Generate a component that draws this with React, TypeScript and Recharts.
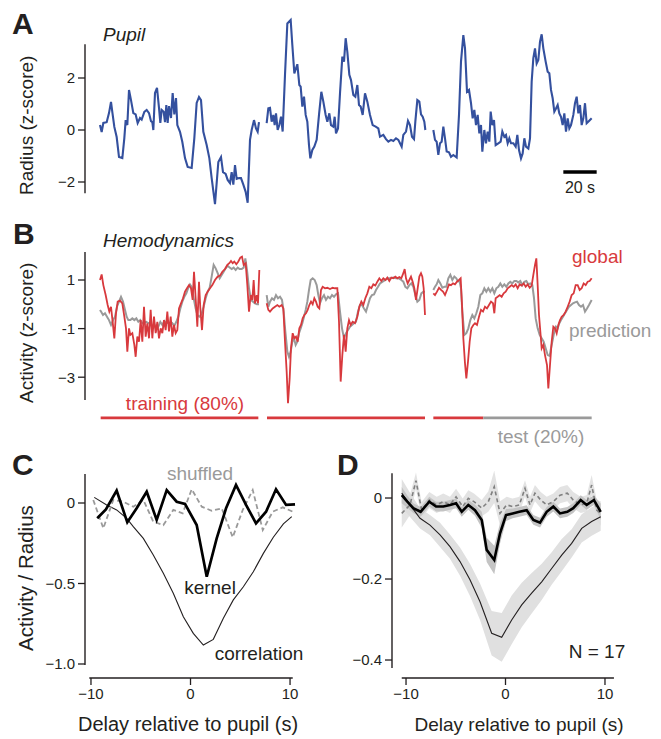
import { ComposedChart, Line, Area, XAxis, YAxis, ReferenceLine } from "recharts";

const FONT = "'Liberation Sans', Arial, sans-serif";
const INK = "#231f20";
const BLUE = "#34509e";
const RED = "#d8393d";
const GRAY = "#9a9a9a";

type Pt = [number, number];

// A: pupil radius (z-score), time in s, three recording segments
const pupilSeg1: Pt[] = [[0,0.19],[1,-0.08],[2,0.27],[4,0.3],[5.4,0.65],[6.6,1.08],[7.4,0.69],[8.6,0.12],[10,-0.27],[11.4,-1.04],[13.4,-1.08],[14.6,-0.31],[15.4,0.38],[16.4,0.19],[17.4,1.54],[18.6,1.15],[20,0.65],[21.4,0.6],[22.6,0.27],[24,0.46],[25,0.4],[26.6,0.7],[28,0.77],[29.4,0.65],[30.6,0.34],[31.4,0.3],[32,0],[33,1.42],[34.2,1.62],[35.4,0.85],[36.2,0.27],[37,0.77],[38.2,0.7],[39,0.3],[39.8,0.96],[40.6,0.27],[41.4,0.92],[42.6,0.46],[43.6,1.42],[44.6,0.6],[45.6,1.23],[46.4,0.19],[48,-0.07],[49.4,-0.46],[51,-1.08],[52.6,-1.42],[55,-1.46],[56.6,-0.31],[58,1.04],[59.4,1.27],[60.6,1.15],[62,-0.07],[64,-0.58],[65.6,-1.08],[67,-1.85],[69,-2.85],[71,-1.23],[72.6,-1.04],[73.8,-1.62],[75.4,-1.69],[76.6,-1.92],[78,-2.04],[79,-1.62],[80,-2.1],[81,-1.35],[82,-1.88],[83.4,-1.85],[84.6,-1.85],[86,-2.1],[87.4,-2.38],[88.6,-2.8],[90,-0.38],[91,0],[92.4,0.38],[93.6,0.06],[94.6,-0.07],[95.4,0.3]];
const pupilSeg2: Pt[] = [[100,0.26],[101,0.83],[102,0.85],[103,0.32],[104,0.58],[104.8,0.19],[105.6,0.64],[106.6,0],[107.6,0.19],[108.6,0.51],[109.6,-0.06],[111,2.12],[112.4,4.1],[114.4,4.23],[115.4,3.27],[116.6,2.18],[118.4,2.53],[119.6,1.73],[120.4,1.67],[121.4,0.9],[122.4,1.28],[123.4,0.58],[124.4,0.32],[125.4,-0.58],[126.2,-1.09],[127.4,-0.77],[128.6,-0.64],[130,-0.38],[131.4,0.58],[132.8,1.47],[134,1.09],[135.4,0.58],[136.4,0.32],[137.6,0.64],[138.6,0.19],[140,0.13],[140.8,0.51],[141.6,-0.13],[142.8,0.06],[144,1.41],[145.4,2.82],[146.4,2.63],[147.4,3.53],[148.4,3.01],[149.6,2.12],[150.6,1.92],[152,1.35],[153.2,1.28],[154.4,1.73],[155.4,0.96],[156.4,0.9],[157.6,0.58],[159,1.41],[160.4,1.09],[162,0.58],[163.6,0.19],[165.4,0.13],[167,0.06],[168,-0.26],[170,-0.19],[171.6,-0.35],[173,-0.45],[174.6,-0.38],[176,-0.42],[177.6,-0.32],[179,-0.38],[180,-0.51],[181,-0.64],[182,-0.19],[183.6,-0.06],[184.8,0.35],[186,0.19],[187.2,-0.26],[188.4,-0.35],[189.2,0.32],[190.4,1.15],[191.6,1.09],[192.6,0.6],[193.6,0.51],[194.6,0.32],[195.2,0]];
const pupilSeg3: Pt[] = [[200,0],[201,-0.38],[202,-0.45],[203,-0.96],[204,-0.51],[205,-0.45],[206,0.13],[207,-0.32],[208,-0.83],[209.4,-0.86],[210.6,-1.03],[212,-0.96],[214,-1.06],[215.4,0.58],[216.6,2.63],[218,3.65],[219,3.14],[220.2,1.47],[221.4,1.54],[222.6,1.03],[223.6,0.45],[224.6,0.77],[225.6,0.19],[226.6,0.58],[227.6,-0.13],[228.6,0.19],[229.4,-0.83],[230.6,0],[231.6,-0.51],[232.6,-0.06],[233.6,-0.45],[234.4,0.71],[235.4,0.19],[236.4,0.38],[237.4,-0.58],[239,-0.51],[240.4,-0.45],[241.4,-0.06],[242.6,-0.26],[243.6,-0.19],[244.6,-0.51],[245.6,-0.32],[246.6,-0.51],[248,-0.51],[249.4,-0.64],[250.4,-0.19],[251.4,-0.77],[252.6,-1.09],[253.6,-0.9],[254.6,-0.32],[255.6,-0.64],[257,-0.71],[258,-0.32],[259,1.86],[260,2.76],[261,3.14],[262,2.56],[263,2.69],[264,3.4],[265,3.68],[266,3.14],[267.4,2.63],[268.6,2.24],[269.6,2.18],[270.6,1.54],[271.6,1.22],[272.6,0.71],[273.6,0.83],[274.6,0.96],[275.6,0.64],[276.6,0.51],[277.6,0.19],[278.6,0.64],[279.6,-0.06],[280.6,0.45],[281.6,0.06],[282.6,0.19],[284,0.58],[285,1.03],[286,1.28],[287,0.64],[288,0.96],[289,0.19],[290,0.45],[291,1.03],[292,0.26],[293.4,0.35],[295,0.45]];

// B: global hemodynamic activity and model prediction
const globalSeg1: Pt[] = [[0,1.0],[1,1.23],[2,0.79],[3.4,0.38],[4.6,-0.03],[5.6,-0.3],[6.6,-0.1],[7.6,-0.72],[8.6,-1.4],[9.6,-0.37],[10.6,0.11],[12,0.15],[13.4,0.04],[14.6,-0.51],[15.6,-0.99],[16.4,-1.95],[17.4,-0.99],[18.2,-1.26],[19.4,-1.19],[20.6,-1.67],[21.4,-2.16],[22.4,-1.33],[23.4,-1.54],[24.4,-0.65],[25.4,-1.54],[26.4,-0.1],[27.4,-1.33],[28.4,-0.78],[29.4,-1.4],[30.4,-0.23],[31.4,-1.4],[32.4,-0.51],[33.4,-1.19],[34.4,-0.72],[35.4,-1.4],[36.4,-0.99],[37.4,-1.19],[38.4,-0.65],[39.4,-1.06],[40.4,-0.3],[41.4,-1.12],[42.4,-0.51],[43.4,-1.33],[44.4,-0.85],[45.4,-1.19],[46.4,-1.06],[47.4,-0.17],[48.6,0.04],[49.8,0.25],[51,0.52],[52.2,0.66],[53.4,0.79],[54.6,0.66],[55.6,0.18],[56.4,1.34],[57.4,0.25],[58.4,-0.92],[59.4,0.93],[60.2,-0.17],[61.2,-1.06],[62.2,-0.03],[63.4,0.38],[64.6,0.52],[66,0.66],[67.4,0.79],[69,1.0],[70.6,1.14],[72,1.18],[73.4,1.34],[75,1.45],[76.4,1.62],[77.6,1.69],[78.6,1.78],[79.6,1.69],[80.6,1.76],[81.8,1.65],[83,1.76],[84.2,1.92],[85.2,1.96],[86.2,1.62],[87.4,1.69],[88.4,0.79],[89.4,-0.3],[90.4,0.38],[91.4,0.18],[92.2,1.0],[93,0.04],[94,0.38],[94.8,0.04],[95.6,1.41]];
const globalSeg2: Pt[] = [[100,0.04],[101,-0.23],[102,-0.3],[103.6,-0.17],[105,-0.1],[106.4,-0.03],[107.6,-0.1],[109,-0.03],[110,-0.17],[111,-1.54],[112,-2.77],[112.8,-4.07],[113.8,-3.05],[114.6,-1.81],[115.6,-1.19],[116.6,-1.4],[117.6,-1.33],[118.6,-1.54],[119.6,-0.99],[120.6,-0.85],[121.6,-0.58],[122.6,-0.44],[123.6,-0.37],[124.6,-0.23],[125.6,-0.03],[126.6,0.11],[127.6,0],[128.6,0.25],[129.6,0.11],[130.6,-0.1],[131.6,-0.17],[132.6,0.59],[133.6,0.72],[135,0.66],[136.4,0.68],[138,0.63],[139.6,0.68],[141,0.66],[142.4,0.66],[143.4,-0.72],[144.4,-3.18],[145.4,-2.09],[146.4,-1.26],[147.4,-1.95],[148.4,-0.99],[149.4,-0.65],[150.4,-0.85],[151.6,-0.72],[153,-0.78],[154.4,-0.51],[155.6,-0.1],[156.8,0.11],[158,-0.03],[159.2,0.25],[160.4,0.45],[161.6,0.72],[162.8,0.66],[164,0.82],[165.2,0.77],[166.4,0.93],[167.6,1.07],[168.8,0.96],[170,1.07],[171.2,1.0],[172.4,1.1],[173.6,0.96],[174.8,1.1],[176,1.07],[177.2,1.14],[178.4,1.07],[179.6,1.12],[180.8,1.07],[182,1.28],[182.8,1.45],[183.6,1.07],[184.6,0.86],[185.6,1.0],[186.6,1.14],[187.6,0.93],[188.6,0.66],[189.6,0.18],[190.6,0.66],[191.6,1.14],[192.6,1.28],[193.4,1.14],[194.2,0.66],[195,-0.44]];
const globalSeg3: Pt[] = [[200,0.45],[201,0.38],[202.2,0.52],[203.4,0.68],[204.6,0.59],[205.8,0.52],[207,0.38],[208.2,0.59],[209.4,0.82],[210.6,0.79],[211.8,0.86],[213,0.82],[214.2,0.93],[215.4,1.0],[216.4,1.07],[217.2,-0.03],[218,-1.4],[219,-2.43],[219.8,-3.05],[220.8,-2.36],[221.8,-1.54],[222.8,-0.99],[224,-0.85],[225,-0.78],[226.2,-0.85],[227.4,-0.51],[228.6,-0.23],[229.8,-0.3],[231,-0.1],[232.2,-0.17],[233.4,-0.03],[234.6,0.11],[235.8,0.04],[236.6,-0.37],[237.4,0.25],[238.6,0.31],[239.8,0.38],[241,0.31],[242.2,0.45],[243.4,0.52],[244.6,0.66],[245.8,0.72],[247,0.79],[248.2,0.72],[249.4,0.82],[250.6,0.66],[251.8,0.82],[253,0.77],[254.2,0.86],[255.4,0.72],[256.6,0.82],[257.8,0.68],[259,0.77],[260,1.21],[261,1.62],[261.8,1.89],[262.6,0.79],[263.4,-0.44],[264.2,-1.12],[265,-1.81],[266,-1.67],[267,-2.09],[268.2,-2.5],[269,-3.46],[270,-2.5],[271,-1.54],[272,-0.92],[273,-0.99],[274,-1.19],[275,-0.85],[276,-0.65],[277,-0.51],[278.2,-0.44],[279.4,-0.3],[280.6,-0.1],[281.8,0.11],[283,0.38],[284.2,0.45],[285.4,0.79],[286.6,0.79],[287.8,0.59],[289,0.66],[290.2,0.86],[291.4,0.79],[292.6,0.93],[293.8,0.96],[295,1.07]];
const predSeg1: Pt[] = [[0,-0.23],[0.6,-0.3],[1.8,-0.44],[3,-0.37],[4.2,-0.51],[5.4,-0.65],[6.6,-0.85],[7.8,-0.65],[9,-0.51],[10.2,-0.1],[11.4,0.11],[12.6,0.31],[13.8,0.11],[15,-0.23],[16,-0.51],[17,-0.65],[18.2,-0.65],[19.4,-0.58],[20.6,-0.65],[21.8,-0.58],[23,-0.72],[24.2,-0.65],[25.4,-0.78],[26.6,-0.75],[27.8,-0.72],[29,-0.78],[30.2,-0.75],[31.4,-0.96],[32.6,-0.82],[33.8,-1.06],[35,-0.92],[36.2,-0.72],[37.4,-0.85],[38.6,-0.69],[39.8,-0.78],[41,-0.75],[42.2,-0.85],[43.4,-0.78],[44.6,-0.88],[45.8,-0.72],[47,-0.51],[48.2,-0.17],[49.4,0.11],[50.6,0.31],[51.8,0.45],[53,0.68],[54,0.82],[55,0.72],[56.2,0.25],[57.4,-0.17],[58.6,-0.47],[59.8,-0.51],[61,-0.37],[62.2,-0.1],[63.4,0.25],[64.6,0.52],[65.8,0.68],[67,1.14],[68.2,1.62],[69.4,1.48],[70.6,1.28],[71.8,1.07],[73,1.21],[74.2,1.34],[75.4,1.48],[76.6,1.59],[77.8,1.51],[79,1.45],[80.2,1.51],[81.4,1.41],[82.6,1.51],[83.8,1.45],[85,1.45],[86.2,1.51],[87.2,1.89],[88.2,1.41],[89.4,0.66],[90.6,0.18],[91.8,0.11],[93,0.04],[94.2,0],[95.4,0]];
const predSeg2: Pt[] = [[100,0.38],[101,-0.1],[102,0.11],[103.2,0.25],[104.4,0.18],[105.6,0.38],[106.8,0.25],[108,0.31],[109.2,0.18],[110.2,-0.3],[111.2,-1.12],[112.4,-1.95],[113.4,-2.16],[114.4,-1.95],[115.4,-1.54],[116.4,-1.4],[117.4,-1.67],[118.4,-1.54],[119.4,-1.19],[120.4,-0.99],[121.4,-0.78],[122.4,-0.51],[123.4,-0.23],[124.4,0.11],[125.4,0.59],[126.4,1.0],[127.6,1.07],[128.8,1.0],[130,0.79],[131,0.38],[132,0.04],[133.2,0.25],[134.4,0.38],[135.6,0.18],[136.8,0.31],[138,0.25],[139.2,0.38],[140.4,0.31],[141.6,0.41],[142.8,0.45],[144,-0.3],[145.2,-0.99],[146.4,-1.4],[147.6,-1.19],[148.8,-1.06],[150,-0.92],[151.2,-0.85],[152.4,-0.78],[153.6,-0.72],[154.8,-0.3],[156,-0.03],[157.2,-0.03],[158.4,-0.17],[159.6,-0.3],[160.8,-0.03],[162,0.25],[163.2,0.38],[164.4,0.41],[165.6,0.59],[166.8,0.72],[168,0.86],[169.6,0.93],[171.2,1.0],[172.8,1.07],[174.4,1.07],[176,1.1],[177.6,1.07],[179.2,1.07],[180.8,1.0],[182,0.93],[183.2,0.72],[184.4,0.66],[185.6,0.79],[186.8,0.86],[188,0.72],[189.2,0.38],[190.4,0.11],[191.6,0.18],[192.8,0.45],[194,0.52],[195,0.52]];
const predSeg3: Pt[] = [[200,0.59],[201,0.72],[202,0.82],[203,1.0],[204.2,0.86],[205.4,0.68],[206.6,0.72],[207.8,0.72],[209,1.07],[210.2,1.21],[211.4,1.0],[212.6,1.14],[213.8,1.07],[214.6,0.96],[215.8,0.93],[216.6,0.66],[217.4,-0.3],[218.6,-1.26],[219.8,-1.19],[221,-0.99],[222.2,-0.65],[223.4,-0.44],[224.6,-0.58],[225.8,-0.37],[227,-0.1],[228.2,0.38],[229.4,0.45],[230.6,0.66],[231.8,0.52],[233,0.66],[234.2,0.52],[235.4,0.66],[236.6,0.45],[237.8,0.66],[239,0.72],[240.2,0.86],[241.4,0.72],[242.6,0.82],[243.8,0.72],[245,0.86],[246.2,0.93],[247.4,0.86],[248.6,0.96],[249.8,0.96],[251,0.9],[252.2,0.96],[253.4,0.79],[254.6,0.93],[255.8,0.96],[257,0.82],[258.2,0.86],[259.4,0.79],[260.4,0.25],[261.4,-0.58],[262.6,-0.99],[263.8,-1.26],[265,-1.4],[266.2,-1.54],[267.4,-1.81],[268.6,-2.09],[269.8,-2.12],[270.6,-1.81],[271.6,-1.47],[272.6,-1.12],[273.6,-0.92],[274.6,-0.99],[275.6,-0.78],[276.6,-0.65],[277.8,-0.51],[279,-0.37],[280.2,-0.23],[281.4,-0.1],[282.6,-0.03],[283.8,0.04],[285,0.08],[286.2,0.11],[287.4,-0.03],[288.6,-0.1],[289.8,-0.03],[291,-0.3],[292.2,-0.17],[293.4,-0.03],[295,0.18]];

// train / test split (s)
const trainSpans: Pt[] = [[0.4, 95], [100.2, 195], [200, 230]];
const testSpan: Pt = [230, 295];

// C: single example, delay (s) vs activity / radius
const kernelC: Pt[] = [[-9.37,-0.095],[-8.5,-0.04],[-7.42,0.077],[-6.35,-0.12],[-5.41,-0.033],[-4.4,0.07],[-3.4,-0.105],[-2.39,0.08],[-1.39,0.008],[-0.55,-0.006],[0.62,-0.137],[1.63,-0.458],[2.63,-0.22],[3.57,-0.033],[4.57,0.112],[5.58,-0.012],[6.58,-0.126],[7.59,-0.054],[8.59,0.085],[9.6,-0.012],[10.5,-0.008]];
const shuffledC: Pt[] = [[-9.77,0.019],[-8.76,-0.157],[-7.76,0.019],[-6.75,0.008],[-5.75,-0.023],[-4.74,0.019],[-3.74,-0.116],[-2.73,-0.137],[-1.73,-0.043],[-0.79,-0.064],[0.12,0.085],[1.13,-0.023],[2.13,-0.048],[3.14,-0.033],[4.24,-0.213],[5.25,-0.043],[6.25,0.081],[7.26,-0.168],[8.26,-0.054],[9.27,-0.027],[10.27,-0.054]];
const correlationC: Pt[] = [[-9.67,0.035],[-8.42,-0.012],[-7.42,-0.043],[-6.41,-0.095],[-5.75,-0.147],[-4.74,-0.22],[-3.74,-0.323],[-2.73,-0.437],[-1.73,-0.561],[-0.72,-0.706],[0.28,-0.81],[1.29,-0.882],[2.29,-0.847],[3.3,-0.716],[4.3,-0.602],[5.31,-0.52],[6.31,-0.427],[7.32,-0.313],[8.32,-0.213],[9.33,-0.13],[10.17,-0.085]];

// D: mean over N = 17 with error bands
const kernelD: Pt[] = [[-10.43,0.007],[-9.87,-0.009],[-9.27,-0.025],[-8.53,-0.034],[-7.66,-0.009],[-6.98,-0.021],[-6.25,-0.021],[-5.58,-0.017],[-4.97,-0.013],[-4.4,-0.034],[-3.74,-0.017],[-3.07,-0.03],[-2.39,-0.054],[-1.89,-0.128],[-1.13,-0.153],[-0.55,-0.087],[0.05,-0.042],[0.72,-0.038],[1.39,-0.034],[2.13,-0.03],[2.8,-0.054],[3.47,-0.061],[4.14,-0.034],[4.81,-0.021],[5.48,-0.038],[6.21,-0.034],[6.81,-0.025],[7.56,-0.005],[8.16,-0.017],[8.89,-0.005],[9.57,-0.034]];
const kernelDErr = [0.02,0.015,0.012,0.012,0.012,0.012,0.012,0.012,0.012,0.012,0.012,0.014,0.02,0.03,0.035,0.025,0.015,0.012,0.012,0.012,0.012,0.012,0.012,0.012,0.012,0.012,0.012,0.012,0.012,0.012,0.02];
const shuffledD: Pt[] = [[-10.43,-0.038],[-9.6,-0.017],[-9.0,0.043],[-8.43,-0.03],[-7.66,-0.005],[-6.92,-0.017],[-6.25,-0.009],[-5.58,-0.017],[-4.97,0.003],[-4.3,-0.021],[-3.74,-0.001],[-3.17,-0.009],[-2.39,-0.025],[-1.73,-0.009],[-1.13,0.028],[-0.55,-0.038],[0.12,-0.017],[0.72,-0.021],[1.39,-0.017],[1.96,0.024],[2.46,-0.017],[2.96,0.012],[3.54,-0.005],[4.14,-0.017],[4.81,-0.009],[5.48,0.007],[6.21,0.012],[6.81,-0.005],[7.56,-0.017],[8.16,-0.013],[8.66,0.032],[9.17,-0.03],[9.57,-0.038]];
const shuffledDErr = [0.035,0.025,0.02,0.02,0.02,0.02,0.02,0.02,0.02,0.02,0.02,0.02,0.02,0.025,0.04,0.03,0.02,0.02,0.02,0.02,0.02,0.02,0.02,0.02,0.02,0.02,0.02,0.02,0.02,0.02,0.025,0.025,0.03];
const correlationD: Pt[] = [[-10.43,0.012],[-9.6,-0.017],[-8.59,-0.05],[-7.59,-0.067],[-6.58,-0.091],[-5.58,-0.12],[-4.57,-0.157],[-3.57,-0.202],[-2.56,-0.256],[-1.39,-0.334],[-0.38,-0.344],[0.62,-0.301],[1.63,-0.264],[2.63,-0.235],[3.64,-0.207],[4.64,-0.174],[5.65,-0.141],[6.65,-0.112],[7.66,-0.075],[8.66,-0.058],[9.57,-0.046]];
const correlationDErr = [0.035,0.03,0.025,0.025,0.03,0.03,0.035,0.04,0.045,0.055,0.06,0.06,0.055,0.05,0.045,0.04,0.04,0.035,0.035,0.035,0.035];

const delayTicks = [-10, 0, 10];

const rows = (pts: Pt[]) => pts.map(([t, v]) => ({ t, v }));
const bandRows = (pts: Pt[], err: number[]) =>
  pts.map(([t, v], i) => ({ t, v, band: [v - err[i], v + err[i]] }));

const minus = (v: number) => (v < 0 ? "\u2212" + Math.abs(v) : String(v));
const minusFixed = (v: number) => (v === 0 ? "0" : (v < 0 ? "\u2212" : "") + Math.abs(v).toFixed(1));

const tickStyle = { fontSize: 15, fill: INK, fontFamily: FONT };
const tickLine = { stroke: INK, strokeWidth: 1.3 };
const spine = { stroke: INK, strokeWidth: 1.4, ifOverflow: "visible" as const };

function PanelA() {
  return (
    <ComposedChart width={661} height={210} margin={{ top: 13, right: 61, bottom: 2, left: 25 }}>
      <XAxis type="number" dataKey="t" domain={[-9, 300]} allowDataOverflow hide />
      <YAxis
        type="number"
        domain={[-3, 4.5]}
        allowDataOverflow
        ticks={[-2, 0, 2]}
        interval={0}
        width={60}
        axisLine={false}
        tickLine={tickLine}
        tickSize={7}
        tickMargin={3}
        tick={tickStyle}
        tickFormatter={minus}
      />
      <ReferenceLine segment={[{ x: -9, y: 3.3 }, { x: -9, y: -2.43 }]} {...spine} />
      {[pupilSeg1, pupilSeg2, pupilSeg3].map((seg, i) => (
        <Line key={i} data={rows(seg)} dataKey="v" type="linear" stroke={BLUE} strokeWidth={2.1}
          dot={false} isAnimationActive={false} />
      ))}
      <ReferenceLine segment={[{ x: 278, y: -1.62 }, { x: 298, y: -1.62 }]} stroke="#000" strokeWidth={3.5} ifOverflow="visible" />
    </ComposedChart>
  );
}

function PanelB() {
  return (
    <ComposedChart width={661} height={235} margin={{ top: 4.25, right: 61, bottom: 12.05, left: 25 }}>
      <XAxis type="number" dataKey="t" domain={[-9, 300]} allowDataOverflow hide />
      <YAxis
        type="number"
        domain={[-5.5, 3.5]}
        allowDataOverflow
        ticks={[-3, -1, 1]}
        interval={0}
        width={60}
        axisLine={false}
        tickLine={tickLine}
        tickSize={7}
        tickMargin={3}
        tick={tickStyle}
        tickFormatter={(v: number) => (v === -3 ? "\u22123" : String(v))}
      />
      <ReferenceLine segment={[{ x: -9, y: 2.15 }, { x: -9, y: -3.94 }]} {...spine} />
      {[predSeg1, predSeg2, predSeg3].map((seg, i) => (
        <Line key={"p" + i} data={rows(seg)} dataKey="v" type="linear" stroke={GRAY} strokeWidth={2}
          dot={false} isAnimationActive={false} />
      ))}
      {[globalSeg1, globalSeg2, globalSeg3].map((seg, i) => (
        <Line key={"g" + i} data={rows(seg)} dataKey="v" type="linear" stroke={RED} strokeWidth={1.8}
          dot={false} isAnimationActive={false} />
      ))}
      {trainSpans.map(([a, b], i) => (
        <ReferenceLine key={"tr" + i} segment={[{ x: a, y: -4.67 }, { x: b, y: -4.67 }]} stroke={RED} strokeWidth={2.7} ifOverflow="visible" />
      ))}
      <ReferenceLine segment={[{ x: testSpan[0], y: -4.67 }, { x: testSpan[1], y: -4.67 }]} stroke={GRAY} strokeWidth={2.7} ifOverflow="visible" />
    </ComposedChart>
  );
}

function PanelC() {
  return (
    <ComposedChart width={330} height={289} margin={{ top: 20.8, right: 30, bottom: 31, left: 25 }}>
      <XAxis
        type="number"
        dataKey="t"
        domain={[-10.6, 11]}
        allowDataOverflow
        ticks={delayTicks}
        interval={0}
        height={30}
        axisLine={false}
        tickLine={tickLine}
        tickSize={7}
        tickMargin={3}
        tick={tickStyle}
        tickFormatter={minus}
      />
      <YAxis
        type="number"
        domain={[-1.087, 0.2]}
        allowDataOverflow
        ticks={[-1, -0.5, 0]}
        interval={0}
        width={60}
        axisLine={false}
        tickLine={tickLine}
        tickSize={7}
        tickMargin={3}
        tick={tickStyle}
        tickFormatter={minusFixed}
      />
      <ReferenceLine segment={[{ x: -10.6, y: 0.18 }, { x: -10.6, y: -1.006 }]} {...spine} />
      <ReferenceLine segment={[{ x: -10.17, y: -1.087 }, { x: 10.27, y: -1.087 }]} {...spine} />
      <Line data={rows(correlationC)} dataKey="v" type="linear" stroke={INK} strokeWidth={1.1} dot={false} isAnimationActive={false} />
      <Line data={rows(shuffledC)} dataKey="v" type="linear" stroke={GRAY} strokeWidth={1.8} strokeDasharray="5 3" dot={false} isAnimationActive={false} />
      <Line data={rows(kernelC)} dataKey="v" type="linear" stroke="#000" strokeWidth={2.7} dot={false} isAnimationActive={false} />
    </ComposedChart>
  );
}

function PanelD() {
  return (
    <ComposedChart width={331} height={289} margin={{ top: 20.8, right: 41, bottom: 31, left: 2 }}>
      <XAxis
        type="number"
        dataKey="t"
        domain={[-11.41, 11.51]}
        allowDataOverflow
        ticks={delayTicks}
        interval={0}
        height={30}
        axisLine={false}
        tickLine={tickLine}
        tickSize={7}
        tickMargin={3}
        tick={tickStyle}
        tickFormatter={minus}
      />
      <YAxis
        type="number"
        domain={[-0.4444, 0.0672]}
        allowDataOverflow
        ticks={[-0.4, -0.2, 0]}
        interval={0}
        width={60}
        axisLine={false}
        tickLine={tickLine}
        tickSize={7}
        tickMargin={3}
        tick={tickStyle}
        tickFormatter={minusFixed}
      />
      <ReferenceLine segment={[{ x: -11.41, y: 0.061 }, { x: -11.41, y: -0.42 }]} {...spine} />
      <ReferenceLine segment={[{ x: -10.43, y: -0.4444 }, { x: 10.9, y: -0.4444 }]} {...spine} />
      <Area data={bandRows(correlationD, correlationDErr)} dataKey="band" type="linear" stroke="none" fill="#e0e0e0" fillOpacity={1} isAnimationActive={false} />
      <Area data={bandRows(shuffledD, shuffledDErr)} dataKey="band" type="linear" stroke="none" fill="#dcdcdc" fillOpacity={0.8} isAnimationActive={false} />
      <Area data={bandRows(kernelD, kernelDErr)} dataKey="band" type="linear" stroke="none" fill="#c4c4c4" fillOpacity={1} isAnimationActive={false} />
      <Line data={rows(correlationD)} dataKey="v" type="linear" stroke={INK} strokeWidth={1.1} dot={false} isAnimationActive={false} />
      <Line data={rows(shuffledD)} dataKey="v" type="linear" stroke="#808080" strokeWidth={1.6} strokeDasharray="4 3" dot={false} isAnimationActive={false} />
      <Line data={rows(kernelD)} dataKey="v" type="linear" stroke="#000" strokeWidth={2.6} dot={false} isAnimationActive={false} />
    </ComposedChart>
  );
}

function Txt(p: { x: number; y: number; s?: number; c?: string; b?: boolean; i?: boolean; a?: "start" | "middle" | "end"; r?: boolean; children: string }) {
  return (
    <text
      x={p.x}
      y={p.y}
      fontSize={p.s ?? 19}
      fill={p.c ?? INK}
      fontWeight={p.b ? 700 : 400}
      fontStyle={p.i ? "italic" : "normal"}
      textAnchor={p.a ?? "start"}
      transform={p.r ? `rotate(-90 ${p.x} ${p.y})` : undefined}
      fontFamily={FONT}
    >
      {p.children}
    </text>
  );
}

export default function App() {
  return (
    <div style={{ position: "absolute", left: 0, top: 0, width: 661, height: 739, background: "#fff", fontFamily: FONT }}>
      <div style={{ position: "absolute", left: 0, top: 0 }}><PanelA /></div>
      <div style={{ position: "absolute", left: 0, top: 215 }}><PanelB /></div>
      <div style={{ position: "absolute", left: 0, top: 450 }}><PanelC /></div>
      <div style={{ position: "absolute", left: 330, top: 450 }}><PanelD /></div>
      <svg width={661} height={739} style={{ position: "absolute", left: 0, top: 0, pointerEvents: "none" }}>
        <Txt x={12} y={33.5} s={30} b>A</Txt>
        <Txt x={13} y={243.5} s={30} b>B</Txt>
        <Txt x={12} y={475} s={30} b>C</Txt>
        <Txt x={337} y={475} s={30} b>D</Txt>
        <Txt x={103} y={41} i>Pupil</Txt>
        <Txt x={103} y={247} i>Hemodynamics</Txt>
        <Txt x={33} y={195} r>Radius (z-score)</Txt>
        <Txt x={33} y={403} r>Activity (z-score)</Txt>
        <Txt x={33} y={651} s={20.5} r>Activity / Radius</Txt>
        <Txt x={580} y={193} s={16} a="middle">20 s</Txt>
        <Txt x={572} y={263} c={RED}>global</Txt>
        <Txt x={569} y={337} c={GRAY}>prediction</Txt>
        <Txt x={185} y={409.5} c={RED} a="middle">training (80%)</Txt>
        <Txt x={541} y={443} c={GRAY} a="middle">test (20%)</Txt>
        <Txt x={200} y={479.5} c={GRAY} a="middle">shuffled</Txt>
        <Txt x={210} y={593.5} a="middle">kernel</Txt>
        <Txt x={259} y={660} a="middle">correlation</Txt>
        <Txt x={597} y={657.5} a="middle">N = 17</Txt>
        <Txt x={188} y={731} s={20} a="middle">Delay relative to pupil (s)</Txt>
        <Txt x={519} y={731} a="middle">Delay relative to pupil (s)</Txt>
      </svg>
    </div>
  );
}
